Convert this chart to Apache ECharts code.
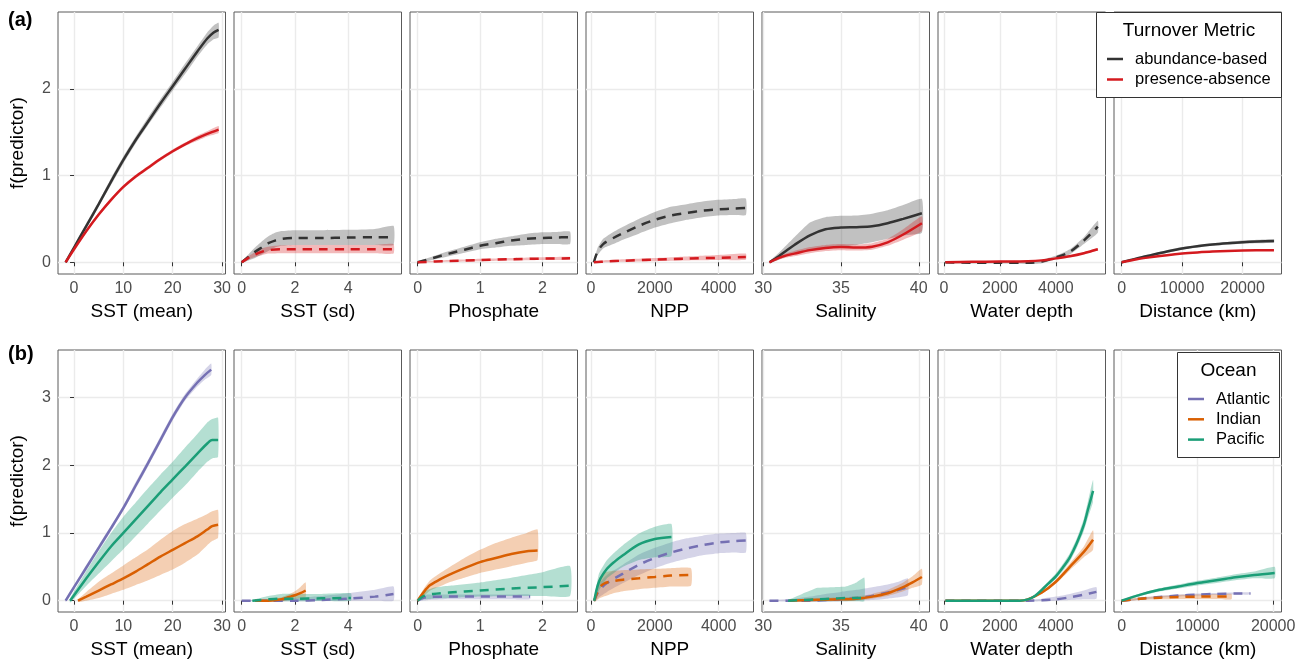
<!DOCTYPE html>
<html>
<head>
<meta charset="utf-8">
<title>Turnover partial effects</title>
<script src="https://cdn.jsdelivr.net/npm/echarts@6/dist/echarts.min.js"></script>
<style>
  html, body { margin: 0; padding: 0; background: #fff; }
  #chart { width: 1306px; height: 664px; }
</style>
</head>
<body>
<div id="chart"></div>
<script>
// each row: [x, fitted, lower CI, upper CI]

// ---- (a) turnover metric ----
const A_SSTM_ABU = [[-1.7,0,-0.01,0.01],[0,0.17,0.15,0.19],[2.5,0.42,0.39,0.45],[5,0.67,0.64,0.7],[7.5,0.93,0.89,0.97],[10,1.18,1.14,1.22],[12.5,1.41,1.37,1.45],[15,1.62,1.58,1.67],[17.5,1.83,1.78,1.88],[20,2.03,1.98,2.08],[22.5,2.23,2.17,2.29],[25,2.43,2.37,2.49],[27,2.58,2.51,2.65],[28.3,2.65,2.57,2.73],[29.3,2.68,2.59,2.76]];
const A_SSTM_PRE = [[-1.7,0,-0.01,0.01],[0,0.15,0.14,0.16],[2.5,0.36,0.34,0.38],[5,0.55,0.53,0.57],[7.5,0.72,0.7,0.74],[10,0.87,0.85,0.89],[12.5,0.99,0.97,1.01],[15,1.09,1.07,1.11],[17.5,1.19,1.17,1.21],[20,1.28,1.26,1.3],[22.5,1.36,1.34,1.38],[25,1.43,1.4,1.46],[27,1.48,1.45,1.51],[29.3,1.53,1.49,1.57]];
const A_SSTSD_ABU = [[0,0,-0.01,0.01],[0.25,0.06,0.02,0.09],[0.5,0.12,0.05,0.17],[0.75,0.17,0.09,0.24],[1,0.22,0.13,0.3],[1.25,0.25,0.17,0.34],[1.5,0.27,0.19,0.36],[2,0.28,0.2,0.37],[3,0.28,0.2,0.37],[4,0.285,0.2,0.375],[5,0.29,0.2,0.385],[5.7,0.29,0.2,0.42]];
const A_SSTSD_PRE = [[0,0,-0.01,0.01],[0.25,0.05,0.03,0.07],[0.5,0.09,0.06,0.12],[0.75,0.12,0.08,0.16],[1,0.14,0.1,0.18],[1.5,0.15,0.105,0.195],[2,0.15,0.105,0.2],[3,0.15,0.105,0.2],[4,0.15,0.105,0.2],[5,0.15,0.105,0.2],[5.7,0.15,0.1,0.21]];
const A_PHOS_ABU = [[0,0,-0.01,0.01],[0.25,0.05,0.03,0.07],[0.5,0.1,0.07,0.13],[0.75,0.145,0.11,0.18],[1,0.19,0.15,0.23],[1.25,0.22,0.17,0.27],[1.5,0.25,0.19,0.3],[1.75,0.27,0.2,0.33],[2,0.28,0.21,0.345],[2.2,0.285,0.21,0.35],[2.44,0.29,0.21,0.355]];
const A_PHOS_PRE = [[0,0,-0.005,0.005],[0.5,0.015,0.005,0.025],[1,0.025,0.012,0.04],[1.5,0.035,0.02,0.05],[2,0.042,0.027,0.058],[2.44,0.046,0.03,0.063]];
const A_NPP_ABU = [[90,0,-0.01,0.01],[200,0.12,0.08,0.16],[380,0.21,0.16,0.27],[700,0.28,0.21,0.35],[1000,0.335,0.26,0.41],[1500,0.42,0.33,0.5],[2000,0.49,0.4,0.58],[2500,0.54,0.45,0.64],[3000,0.57,0.49,0.67],[3500,0.595,0.52,0.7],[4000,0.61,0.54,0.72],[4500,0.62,0.545,0.73],[4850,0.625,0.545,0.735]];
const A_NPP_PRE = [[90,0,-0.005,0.005],[500,0.01,0,0.025],[1000,0.018,0.005,0.035],[2000,0.03,0.012,0.05],[3000,0.042,0.02,0.068],[4000,0.052,0.025,0.085],[4850,0.06,0.028,0.1]];
const A_SAL_ABU = [[30.4,0,-0.01,0.01],[31,0.07,0.03,0.11],[31.5,0.135,0.07,0.2],[32,0.2,0.1,0.29],[33,0.31,0.13,0.46],[34,0.38,0.16,0.52],[35,0.4,0.18,0.535],[36,0.405,0.2,0.54],[37,0.415,0.23,0.56],[38,0.45,0.27,0.6],[39,0.5,0.31,0.66],[40.2,0.565,0.34,0.73]];
const A_SAL_PRE = [[30.4,0,-0.01,0.01],[31,0.05,0.03,0.07],[31.5,0.08,0.055,0.105],[32,0.1,0.07,0.13],[33,0.14,0.105,0.175],[34,0.165,0.13,0.2],[35,0.175,0.14,0.21],[36,0.17,0.135,0.205],[37,0.18,0.145,0.22],[38,0.23,0.19,0.27],[39,0.32,0.26,0.38],[40.2,0.45,0.36,0.53]];
const A_DEP_ABU = [[50,0,-0.01,0.01],[1000,-0.005,-0.015,0.005],[2000,-0.005,-0.015,0.005],[3000,-0.005,-0.02,0.01],[3500,0.01,-0.01,0.03],[4000,0.055,0.035,0.075],[4500,0.12,0.09,0.15],[5000,0.25,0.21,0.29],[5500,0.41,0.34,0.48]];
const A_DEP_PRE = [[50,0,-0.005,0.005],[1000,0.005,0,0.01],[2000,0.008,0.003,0.013],[3000,0.012,0.006,0.018],[3500,0.022,0.015,0.029],[4000,0.045,0.037,0.053],[4500,0.07,0.06,0.08],[5000,0.105,0.093,0.117],[5500,0.15,0.135,0.165]];
const A_DIST_ABU = [[0,0,-0.005,0.005],[2500,0.045,0.035,0.055],[5000,0.085,0.072,0.098],[7500,0.125,0.11,0.14],[10000,0.16,0.145,0.175],[12500,0.185,0.17,0.2],[15000,0.205,0.19,0.22],[17500,0.22,0.205,0.235],[20000,0.232,0.215,0.25],[22500,0.24,0.22,0.26],[25200,0.245,0.225,0.265]];
const A_DIST_PRE = [[0,0,-0.005,0.005],[2500,0.035,0.03,0.04],[5000,0.06,0.055,0.066],[7500,0.082,0.076,0.088],[10000,0.1,0.094,0.106],[12500,0.113,0.107,0.119],[15000,0.123,0.117,0.129],[20000,0.135,0.129,0.141],[25200,0.14,0.133,0.147]];

// ---- (b) ocean ----
const B_SSTM_ATL = [[-1.7,0,-0.02,0.02],[0,0.2,0.17,0.23],[2.5,0.49,0.45,0.53],[5,0.78,0.74,0.82],[7.5,1.07,1.03,1.11],[10,1.37,1.33,1.41],[12.5,1.7,1.65,1.75],[15,2.03,1.98,2.08],[17.5,2.37,2.32,2.42],[20,2.71,2.66,2.76],[22.5,3,2.95,3.05],[25,3.22,3.16,3.28],[26.5,3.33,3.26,3.41],[27.8,3.41,3.33,3.5]];
const B_SSTM_IND = [[0.8,0,-0.02,0.02],[2.5,0.06,0,0.13],[5,0.15,0.04,0.28],[7.5,0.24,0.1,0.4],[10,0.33,0.16,0.52],[12.5,0.43,0.23,0.64],[15,0.54,0.3,0.76],[17.5,0.65,0.38,0.9],[20,0.75,0.46,1.03],[22.5,0.85,0.56,1.13],[25,0.95,0.68,1.21],[27,1.05,0.82,1.28],[28,1.1,0.88,1.32],[29.2,1.12,0.93,1.34]];
const B_SSTM_PAC = [[-0.8,0,-0.03,0.03],[2.5,0.33,0.22,0.44],[5,0.57,0.4,0.73],[7.5,0.8,0.58,1],[10,1,0.76,1.24],[12.5,1.2,0.95,1.45],[15,1.4,1.14,1.66],[17.5,1.6,1.33,1.86],[20,1.79,1.52,2.05],[22.5,1.98,1.7,2.26],[25,2.17,1.9,2.46],[27,2.32,2.05,2.63],[28,2.37,2.1,2.68],[29.2,2.37,2.12,2.7]];
const B_SSTSD_ATL = [[0,0,-0.005,0.005],[1,0,-0.01,0.02],[2,0,-0.01,0.04],[3,0.01,-0.005,0.07],[4,0.03,0,0.11],[5,0.06,0,0.16],[5.7,0.1,0,0.21]];
const B_SSTSD_IND = [[0.5,0,-0.01,0.01],[1,0,-0.02,0.02],[1.5,0.02,-0.01,0.05],[1.75,0.05,0.01,0.09],[2,0.08,0.03,0.14],[2.2,0.11,0.04,0.2],[2.4,0.15,0.05,0.27]];
const B_SSTSD_PAC = [[0.4,0,-0.01,0.01],[1,0.02,-0.01,0.07],[1.5,0.03,-0.01,0.1],[2,0.03,-0.01,0.1],[3,0.035,-0.005,0.1],[4.1,0.04,0,0.11]];
const B_PHOS_ATL = [[0,0,-0.01,0.01],[0.08,0.04,0,0.08],[0.2,0.055,0.01,0.09],[0.5,0.06,0.02,0.09],[1,0.06,0.02,0.09],[1.5,0.06,0.02,0.09],[1.8,0.06,0.02,0.09]];
const B_PHOS_IND = [[0,0,-0.02,0.02],[0.1,0.13,0.07,0.18],[0.2,0.23,0.15,0.3],[0.35,0.31,0.21,0.4],[0.5,0.38,0.27,0.49],[0.75,0.48,0.34,0.63],[1,0.57,0.41,0.75],[1.25,0.63,0.46,0.85],[1.5,0.69,0.51,0.93],[1.75,0.73,0.56,1],[1.92,0.74,0.6,1.05]];
const B_PHOS_PAC = [[0,0,-0.01,0.01],[0.1,0.07,0.02,0.13],[0.25,0.1,0.03,0.19],[0.5,0.12,0.04,0.22],[1,0.15,0.06,0.27],[1.5,0.18,0.07,0.34],[2,0.2,0.07,0.42],[2.44,0.22,0.07,0.51]];
const B_NPP_ATL = [[100,0,-0.02,0.02],[250,0.15,0.05,0.25],[500,0.26,0.13,0.38],[1000,0.4,0.26,0.53],[1500,0.53,0.38,0.68],[2000,0.63,0.48,0.78],[2500,0.71,0.56,0.86],[3000,0.77,0.62,0.92],[3500,0.82,0.67,0.96],[4000,0.86,0.7,0.99],[4500,0.88,0.71,1],[4850,0.89,0.71,1]];
const B_NPP_IND = [[100,0,-0.02,0.02],[250,0.18,0.03,0.33],[400,0.25,0.06,0.41],[700,0.29,0.11,0.44],[1000,0.31,0.14,0.45],[1500,0.33,0.17,0.46],[2000,0.35,0.19,0.47],[2500,0.37,0.21,0.48],[3130,0.38,0.22,0.48]];
const B_NPP_PAC = [[100,0,-0.02,0.02],[250,0.28,0.15,0.4],[500,0.47,0.33,0.6],[750,0.58,0.42,0.72],[1000,0.67,0.5,0.82],[1500,0.83,0.6,0.99],[2000,0.91,0.64,1.09],[2520,0.94,0.66,1.13]];
const B_SAL_ATL = [[30.4,0,-0.005,0.005],[32,0,-0.02,0.03],[33,0,-0.02,0.06],[34,0.01,-0.02,0.1],[35,0.02,-0.01,0.13],[36,0.04,0,0.16],[37,0.07,0.01,0.2],[38,0.12,0.03,0.24],[38.7,0.16,0.05,0.28],[39.3,0.2,0.08,0.33]];
const B_SAL_IND = [[31.7,0,-0.01,0.01],[33,0.01,-0.01,0.03],[34,0.015,-0.005,0.04],[35,0.02,0,0.05],[36,0.03,0.005,0.06],[37,0.06,0.03,0.1],[38,0.11,0.07,0.16],[39,0.2,0.14,0.27],[39.6,0.27,0.19,0.36],[40.2,0.35,0.24,0.47]];
const B_SAL_PAC = [[31.6,0,-0.01,0.01],[32.5,0.01,-0.01,0.1],[33.5,0.02,-0.01,0.19],[34.5,0.03,-0.01,0.2],[35.3,0.04,-0.01,0.21],[36,0.04,-0.01,0.27],[36.5,0.04,-0.01,0.34]];
const B_DEP_ATL = [[50,0,-0.005,0.005],[1000,0,-0.005,0.005],[2000,0,-0.005,0.005],[3000,0,-0.01,0.01],[3500,0.005,-0.01,0.03],[4000,0.02,0,0.06],[4500,0.05,0.01,0.1],[5000,0.09,0.02,0.15],[5450,0.13,0.03,0.2]];
const B_DEP_IND = [[50,0,-0.005,0.005],[1000,0,-0.005,0.005],[2000,0,-0.005,0.005],[2700,0,-0.005,0.005],[3000,0.02,0.01,0.03],[3500,0.12,0.1,0.14],[4000,0.28,0.25,0.31],[4500,0.5,0.45,0.55],[5000,0.72,0.64,0.8],[5330,0.9,0.75,1.04]];
const B_DEP_PAC = [[50,0,-0.005,0.005],[1000,0,-0.005,0.005],[2000,0,-0.005,0.005],[2700,0,-0.005,0.005],[3000,0.02,0.01,0.03],[3250,0.07,0.05,0.09],[3500,0.16,0.13,0.19],[3750,0.26,0.23,0.29],[4000,0.36,0.32,0.4],[4250,0.49,0.44,0.54],[4500,0.64,0.58,0.7],[4750,0.85,0.78,0.92],[5000,1.12,1.03,1.21],[5150,1.35,1.23,1.47],[5330,1.62,1.46,1.78]];
const B_DIST_ATL = [[0,0,-0.01,0.01],[2500,0.03,0.015,0.045],[5000,0.055,0.04,0.07],[7500,0.075,0.06,0.09],[10000,0.09,0.075,0.105],[12500,0.1,0.085,0.115],[15000,0.105,0.09,0.12],[17000,0.105,0.09,0.125]];
const B_DIST_IND = [[0,0,-0.01,0.01],[2500,0.03,0.01,0.05],[5000,0.045,0.02,0.07],[7500,0.055,0.025,0.085],[10000,0.06,0.025,0.09],[12500,0.06,0.025,0.095],[14500,0.06,0.02,0.1]];
const B_DIST_PAC = [[0,0,-0.01,0.01],[2500,0.09,0.07,0.11],[5000,0.16,0.135,0.185],[7500,0.21,0.18,0.24],[10000,0.26,0.225,0.295],[12500,0.3,0.26,0.34],[15000,0.345,0.3,0.39],[17500,0.38,0.33,0.43],[20200,0.41,0.33,0.5]];

// tick labels
const TICKS_SSTM = [0, 10, 20, 30];
const TICKS_SSTSD = [0, 2, 4];
const TICKS_PHOS = [0, 1, 2];
const TICKS_NPP = [0, 2000, 4000];
const TICKS_SAL = [30, 35, 40];
const TICKS_DEP = [0, 2000, 4000];
const TICKS_DIST = [0, 10000, 20000];
const YTICKS_A = [0, 1, 2];
const YTICKS_B = [0, 1, 2, 3];

const METRICS = ['abundance-based', 'presence-absence'];
const OCEANS = ['Atlantic', 'Indian', 'Pacific'];

const FONT = '"Liberation Sans", Arial, Helvetica, sans-serif';
const COLORS = { abu: '#333333', pre: '#D41A1F', atl: '#7570B3', ind: '#D95F02', pac: '#1B9E77' };
const RIBBON_ALPHA = { abu: 0.3, pre: 0.3, atl: 0.3, ind: 0.3, pac: 0.33 };

// [data, colour key, dashed]
const rowA = [
  { title: 'SST (mean)', min: -3.25, max: 30.7, ticks: TICKS_SSTM, curves: [[A_SSTM_ABU, 'abu', false], [A_SSTM_PRE, 'pre', false]] },
  { title: 'SST (sd)', min: -0.29, max: 6.0, ticks: TICKS_SSTSD, curves: [[A_SSTSD_ABU, 'abu', true], [A_SSTSD_PRE, 'pre', true]] },
  { title: 'Phosphate', min: -0.123, max: 2.56, ticks: TICKS_PHOS, curves: [[A_PHOS_ABU, 'abu', true], [A_PHOS_PRE, 'pre', true]] },
  { title: 'NPP', min: -157, max: 5090, ticks: TICKS_NPP, curves: [[A_NPP_ABU, 'abu', true], [A_NPP_PRE, 'pre', true]] },
  { title: 'Salinity', min: 29.92, max: 40.69, ticks: TICKS_SAL, curves: [[A_SAL_ABU, 'abu', false], [A_SAL_PRE, 'pre', false]] },
  { title: 'Water depth', min: -214, max: 5775, ticks: TICKS_DEP, curves: [[A_DEP_ABU, 'abu', true], [A_DEP_PRE, 'pre', false]] },
  { title: 'Distance (km)', min: -1273, max: 26446, ticks: TICKS_DIST, curves: [[A_DIST_ABU, 'abu', false], [A_DIST_PRE, 'pre', false]] }
];
const rowB = [
  { title: 'SST (mean)', min: -3.25, max: 30.7, ticks: TICKS_SSTM, curves: [[B_SSTM_ATL, 'atl', false], [B_SSTM_IND, 'ind', false], [B_SSTM_PAC, 'pac', false]] },
  { title: 'SST (sd)', min: -0.29, max: 6.0, ticks: TICKS_SSTSD, curves: [[B_SSTSD_ATL, 'atl', true], [B_SSTSD_IND, 'ind', false], [B_SSTSD_PAC, 'pac', true]] },
  { title: 'Phosphate', min: -0.123, max: 2.56, ticks: TICKS_PHOS, curves: [[B_PHOS_ATL, 'atl', true], [B_PHOS_IND, 'ind', false], [B_PHOS_PAC, 'pac', true]] },
  { title: 'NPP', min: -157, max: 5090, ticks: TICKS_NPP, curves: [[B_NPP_ATL, 'atl', true], [B_NPP_IND, 'ind', true], [B_NPP_PAC, 'pac', false]] },
  { title: 'Salinity', min: 29.92, max: 40.69, ticks: TICKS_SAL, curves: [[B_SAL_ATL, 'atl', true], [B_SAL_IND, 'ind', false], [B_SAL_PAC, 'pac', true]] },
  { title: 'Water depth', min: -214, max: 5775, ticks: TICKS_DEP, curves: [[B_DEP_ATL, 'atl', true], [B_DEP_IND, 'ind', false], [B_DEP_PAC, 'pac', false]] },
  { title: 'Distance (km)', min: -1011, max: 21100, ticks: TICKS_DIST, curves: [[B_DIST_ATL, 'atl', true], [B_DIST_IND, 'ind', true], [B_DIST_PAC, 'pac', false]] }
];

const ROWS = [
  { panels: rowA, top: 12, ymin: -0.135, ymax: 2.885, yticks: YTICKS_A },
  { panels: rowB, top: 350, ymin: -0.167, ymax: 3.70, yticks: YTICKS_B }
];

const grids = [], xAxes = [], yAxes = [], ribbons = [], lines = [];
const plain = v => String(v);

// CI ribbon as one polygon, placed through the grid's scales
function ribbon(k, rows, key) {
  return {
    type: 'custom', xAxisIndex: k, yAxisIndex: k, silent: true, z: 2,
    data: rows.map(r => [r[0], r[2], r[3]]),
    encode: { x: 0, y: [1, 2] },
    renderItem: function (params, api) {
      if (params.dataIndex !== 0) return null;
      const upper = rows.map(r => api.coord([r[0], r[3]]));
      const lower = rows.map(r => api.coord([r[0], r[2]])).reverse();
      return {
        type: 'polygon',
        shape: { points: upper.concat(lower), smooth: 0.15 },
        style: { fill: COLORS[key], opacity: RIBBON_ALPHA[key] }
      };
    }
  };
}

ROWS.forEach((row, r) => {
  row.panels.forEach((p, i) => {
    const k = r * 7 + i;
    grids.push({
      left: 58 + i * 176, top: row.top, width: 167.5, height: 262,
      show: true, borderColor: '#5a5a5a', borderWidth: 1, backgroundColor: '#fff'
    });
    xAxes.push({
      gridIndex: k, type: 'value', min: p.min, max: p.max,
      name: p.title, nameLocation: 'middle', nameGap: 28,
      nameTextStyle: { fontSize: 19, color: '#000', fontFamily: FONT },
      axisLine: { show: false },
      axisTick: { show: true, length: 4, customValues: p.ticks, lineStyle: { color: '#333' } },
      axisLabel: { customValues: p.ticks, formatter: plain, fontSize: 16, color: '#4D4D4D', margin: 7, fontFamily: FONT },
      splitLine: { show: true, lineStyle: { color: '#EBEBEB', width: 1.4 } }
    });
    yAxes.push({
      gridIndex: k, type: 'value', min: row.ymin, max: row.ymax,
      name: i === 0 ? 'f(predictor)' : '', nameLocation: 'middle', nameGap: 31,
      nameTextStyle: { fontSize: 19, color: '#000', fontFamily: FONT },
      axisLine: { show: false },
      axisTick: { show: i === 0, length: 4, customValues: row.yticks, lineStyle: { color: '#333' } },
      axisLabel: { show: i === 0, customValues: row.yticks, formatter: plain, fontSize: 16, color: '#4D4D4D', margin: 7, fontFamily: FONT },
      splitLine: { show: true, lineStyle: { color: '#EBEBEB', width: 1.4 } }
    });
    p.curves.forEach(([rows, key, dashed]) => {
      ribbons.push(ribbon(k, rows, key));
      lines.push({
        type: 'line', xAxisIndex: k, yAxisIndex: k, silent: true, z: 3,
        data: rows.map(d => [d[0], d[1]]),
        symbol: 'none', smooth: 0.3,
        lineStyle: { color: COLORS[key], width: 2.5, type: dashed ? [9, 7] : 'solid', cap: 'butt' }
      });
    });
  });
});

// legends drawn as graphic elements (each on top of the panels)
function legendBox(x, y, w, h, title, titleY, labels, keys, itemY0, itemStep, lineX, textX) {
  const els = [
    { type: 'rect', z: 100, shape: { x: x, y: y, width: w, height: h }, style: { fill: '#fff', stroke: '#333', lineWidth: 1 } },
    { type: 'text', z: 101, style: { x: x + w / 2, y: titleY, text: title, font: '19px ' + FONT, fill: '#000', textAlign: 'center', textVerticalAlign: 'middle' } }
  ];
  labels.forEach((lab, j) => {
    const yy = itemY0 + j * itemStep;
    els.push({ type: 'line', z: 101, shape: { x1: lineX, y1: yy, x2: lineX + 16, y2: yy }, style: { stroke: COLORS[keys[j]], lineWidth: 2.5 } });
    els.push({ type: 'text', z: 101, style: { x: textX, y: yy, text: lab, font: '16.5px ' + FONT, fill: '#000', textAlign: 'left', textVerticalAlign: 'middle' } });
  });
  return els;
}

const graphic = [
  { type: 'text', z: 100, style: { x: 8, y: 20, text: '(a)', font: 'bold 20px ' + FONT, fill: '#000', textVerticalAlign: 'middle' } },
  { type: 'text', z: 100, style: { x: 8, y: 354, text: '(b)', font: 'bold 20px ' + FONT, fill: '#000', textVerticalAlign: 'middle' } }
].concat(
  legendBox(1096.5, 12.5, 185, 85, 'Turnover Metric', 31, METRICS, ['abu', 'pre'], 59, 20.5, 1107, 1135),
  legendBox(1177.5, 352.5, 102, 105, 'Ocean', 371, OCEANS, ['atl', 'ind', 'pac'], 399, 20.3, 1188, 1216)
);

const chart = echarts.init(document.getElementById('chart'), null, { renderer: 'canvas' });
chart.setOption({
  animation: false,
  backgroundColor: '#fff',
  textStyle: { fontFamily: FONT },
  grid: grids,
  xAxis: xAxes,
  yAxis: yAxes,
  series: ribbons.concat(lines),
  graphic: graphic
});
</script>
</body>
</html>
